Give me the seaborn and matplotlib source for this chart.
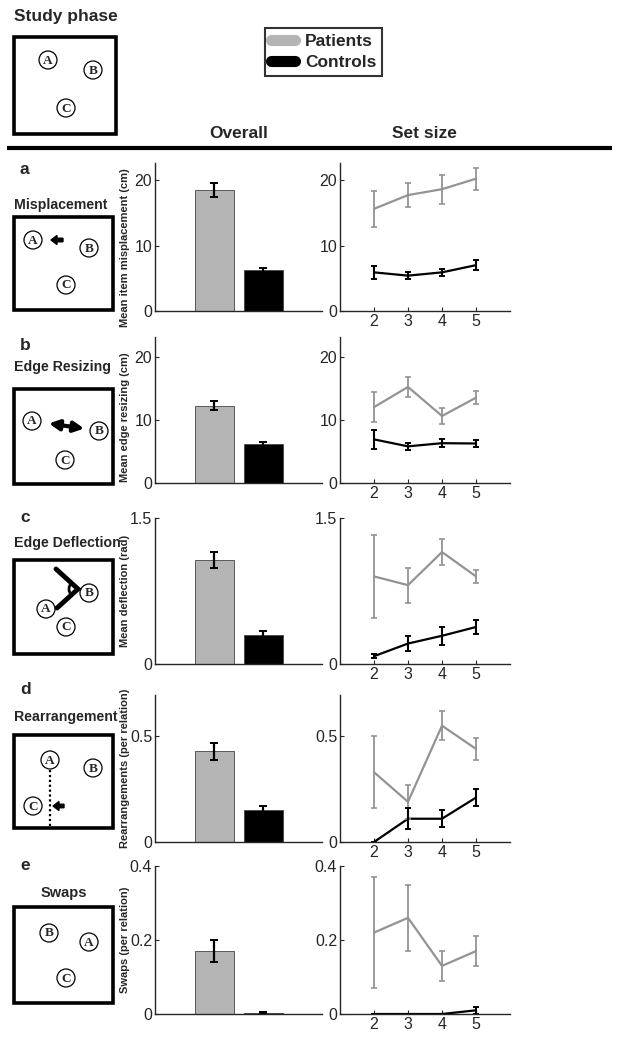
import numpy as np
import pandas as pd
import matplotlib
matplotlib.use("Agg")
import matplotlib.pyplot as plt
from matplotlib import patches
from matplotlib.lines import Line2D
import seaborn as sns

# ---- data ----
groups = ["Patients", "Controls"]
set_sizes = [2, 3, 4, 5]

# misplacement (cm)
mis_bar = [18.5, 6.2]
mis_bar_err = [1.1, 0.35]
mis_pat = [15.6, 17.7, 18.6, 20.2]
mis_pat_err = [2.8, 1.8, 2.2, 1.7]
mis_con = [5.9, 5.4, 5.9, 7.0]
mis_con_err = [1.0, 0.5, 0.5, 0.8]

# edge resizing (cm)
res_bar = [12.2, 6.2]
res_bar_err = [0.7, 0.3]
res_pat = [12.0, 15.2, 10.6, 13.5]
res_pat_err = [2.4, 1.6, 1.2, 1.0]
res_con = [6.9, 5.8, 6.3, 6.25]
res_con_err = [1.5, 0.6, 0.6, 0.5]

# edge deflection (rad)
def_bar = [1.07, 0.30]
def_bar_err = [0.08, 0.04]
def_pat = [0.90, 0.81, 1.15, 0.90]
def_pat_err = [0.43, 0.18, 0.13, 0.07]
def_con = [0.08, 0.21, 0.29, 0.38]
def_con_err = [0.02, 0.08, 0.09, 0.07]

# rearrangements (per relation)
rea_bar = [0.43, 0.15]
rea_bar_err = [0.04, 0.02]
rea_pat = [0.33, 0.19, 0.55, 0.44]
rea_pat_err = [0.17, 0.08, 0.07, 0.05]
rea_con = [0.0, 0.11, 0.11, 0.21]
rea_con_err = [0.0, 0.05, 0.04, 0.04]

# swaps (per relation)
swp_bar = [0.17, 0.003]
swp_bar_err = [0.03, 0.003]
swp_pat = [0.22, 0.26, 0.13, 0.17]
swp_pat_err = [0.15, 0.09, 0.04, 0.04]
swp_con = [0.0, 0.0, 0.0, 0.01]
swp_con_err = [0.0, 0.0, 0.0, 0.01]

letters = ["a", "b", "c", "d", "e"]
titles = ["Misplacement", "Edge Resizing", "Edge Deflection", "Rearrangement", "Swaps"]
ylabels = ["Mean item misplacement (cm)", "Mean edge resizing (cm)",
           "Mean deflection (rad)", "Rearrangements (per relation)", "Swaps (per relation)"]
ylims = [22.6, 23.1, 1.5, 0.695, 0.4]
yticks = [[0, 10, 20], [0, 10, 20], [0, 1.5], [0, 0.5], [0, 0.2, 0.4]]
yticklabels = [["0", "10", "20"], ["0", "10", "20"], ["0", "1.5"], ["0", "0.5"], ["0", "0.2", "0.4"]]

bars = [mis_bar, res_bar, def_bar, rea_bar, swp_bar]
bars_err = [mis_bar_err, res_bar_err, def_bar_err, rea_bar_err, swp_bar_err]
pats = [mis_pat, res_pat, def_pat, rea_pat, swp_pat]
pats_err = [mis_pat_err, res_pat_err, def_pat_err, rea_pat_err, swp_pat_err]
cons = [mis_con, res_con, def_con, rea_con, swp_con]
cons_err = [mis_con_err, res_con_err, def_con_err, rea_con_err, swp_con_err]

GRAY_BAR = "#b4b4b4"
GRAY_LINE = "#939393"
BLACK = "#000000"
FAMILY = ["Liberation Sans", "DejaVu Sans"]

sns.set_style("ticks")
plt.rcParams["font.family"] = FAMILY
plt.rcParams["axes.linewidth"] = 1.0

W, H = 628, 1048
fig = plt.figure(figsize=(W / 100, H / 100), dpi=100)

def fx(px):
    return px / W

def fy(py):
    return 1 - py / H

# row extents in pixels (top, bottom)
rows = [(163, 311), (337, 483), (518, 664), (695, 842), (866, 1014)]
label_y = [0.43, 0.45, 0.5, 0.5, 0.5]
bar_x = (155, 322)
line_x = (340, 510)

for i in range(5):
    top, bot = rows[i]
    axb = fig.add_axes([fx(bar_x[0]), fy(bot), fx(bar_x[1] - bar_x[0]), (bot - top) / H])
    axl = fig.add_axes([fx(line_x[0]), fy(bot), fx(line_x[1] - line_x[0]), (bot - top) / H])

    # overall bars
    df = pd.DataFrame({"group": groups, "value": bars[i]})
    sns.barplot(data=df, x="group", y="value", hue="group", palette=[GRAY_BAR, BLACK],
                width=0.8, errorbar=None, legend=False, ax=axb,
                edgecolor="#444444", linewidth=0.6)
    axb.errorbar([0, 1], bars[i], yerr=bars_err[i], fmt="none", ecolor="black",
                 elinewidth=1.6, capsize=3, capthick=1.4)
    axb.set_xlim(-1.214, 2.194)
    axb.set_ylim(0, ylims[i])
    axb.set_xticks([])
    axb.set_xlabel("")
    axb.set_yticks(yticks[i])
    axb.set_yticklabels(yticklabels[i])
    axb.set_ylabel(ylabels[i], fontsize=8, fontweight="bold")
    axb.yaxis.set_label_coords(-0.15, label_y[i])

    # set size lines
    dl = pd.DataFrame({
        "set size": set_sizes * 2,
        "value": pats[i] + cons[i],
        "group": ["Patients"] * 4 + ["Controls"] * 4,
    })
    sns.lineplot(data=dl, x="set size", y="value", hue="group",
                 palette={"Patients": GRAY_LINE, "Controls": BLACK},
                 linewidth=1.6, legend=False, ax=axl)
    axl.errorbar(set_sizes, pats[i], yerr=pats_err[i], fmt="none", ecolor=GRAY_LINE,
                 elinewidth=1.3, capsize=2, capthick=1.2)
    axl.errorbar(set_sizes, cons[i], yerr=cons_err[i], fmt="none", ecolor=BLACK,
                 elinewidth=1.5, capsize=2, capthick=1.4)
    axl.set_xlim(1, 6)
    axl.set_ylim(0, ylims[i])
    axl.set_xticks(set_sizes)
    axl.set_yticks(yticks[i])
    axl.set_yticklabels(yticklabels[i])
    axl.set_xlabel("")
    axl.set_ylabel("")

    for ax in (axb, axl):
        sns.despine(ax=ax)
        ax.tick_params(direction="in", length=3, width=0.8, labelsize=11.5, pad=2)
        ax.set_facecolor("none")

# ---- overlay for headers, schematics and rule ----
ov = fig.add_axes([0, 0, 1, 1], zorder=-1)
ov.set_xlim(0, W)
ov.set_ylim(H, 0)
ov.axis("off")

bold = dict(fontweight="bold")
ov.text(14, 17, "Study phase", fontsize=12.5, ha="left", va="center", **bold)
ov.text(239, 133, "Overall", fontsize=12.5, ha="center", va="center", **bold)
ov.text(424, 133, "Set size", fontsize=12.5, ha="center", va="center", **bold)
ov.plot([7, 612], [148, 148], color="black", lw=3, solid_capstyle="butt")

letter_y = [170, 345, 517, 690, 866]
title_y = [205, 367, 543, 717, 893]
for i in range(5):
    ov.text(20, letter_y[i], letters[i], fontsize=12.5, ha="left", va="center", **bold)
    if titles[i] == "Swaps":
        ov.text(64, title_y[i], titles[i], fontsize=10.5, ha="center", va="center", **bold)
    else:
        ov.text(14, title_y[i], titles[i], fontsize=10.2, ha="left", va="center", **bold)

boxes = [(14, 37, 116, 134), (14, 217, 113, 310), (14, 389, 113, 484),
         (14, 560, 113, 654), (14, 735, 113, 828), (14, 907, 113, 1003)]
for (x0, y0, x1, y1) in boxes:
    ov.add_patch(patches.Rectangle((x0, y0), x1 - x0, y1 - y0, fill=False, lw=2.6, ec="black"))

circles = [
    [("A", 48, 60), ("B", 93, 70), ("C", 66, 108)],
    [("A", 33, 240), ("B", 89, 248), ("C", 66, 285)],
    [("A", 32, 421), ("B", 99, 431), ("C", 65, 460)],
    [("A", 46, 609), ("B", 89, 593), ("C", 66, 627)],
    [("A", 50, 760), ("B", 93, 768), ("C", 33, 806)],
    [("B", 49, 933), ("A", 89, 942), ("C", 66, 978)],
]
for group in circles:
    for lab, cx, cy in group:
        ov.add_patch(patches.Circle((cx, cy), 9, fill=True, fc="white", ec="black", lw=0.9))
        ov.text(cx, cy + 0.5, lab, fontsize=9.5, fontweight="bold", ha="center", va="center",
                family=["Liberation Serif", "DejaVu Serif"])

# arrows inside schematics
ov.add_patch(patches.FancyArrow(63, 240, -12, 0, width=3.5, head_width=9, head_length=6,
                                length_includes_head=True, color="black"))
ov.add_patch(patches.FancyArrowPatch((46, 423), (87, 429), arrowstyle="<|-|>",
                                     mutation_scale=15, lw=3, color="black"))
ov.plot([56, 78, 57], [569, 589, 608], color="black", lw=3.5, solid_joinstyle="miter")
ov.add_patch(patches.Arc((78, 589), 18, 18, angle=0, theta1=135, theta2=225, lw=2, color="black"))
ov.plot([50, 50], [770, 828], color="black", lw=1.6, ls=(0, (1, 1.2)))
ov.add_patch(patches.FancyArrow(64, 806, -11, 0, width=3.5, head_width=9, head_length=6,
                                length_includes_head=True, color="black"))

# legend
handles = [Line2D([], [], color=GRAY_BAR, lw=8, solid_capstyle="round"),
           Line2D([], [], color=BLACK, lw=8, solid_capstyle="round")]
leg = fig.legend(handles, groups, loc="upper left", bbox_to_anchor=(fx(265), fy(28)),
                 frameon=True, fancybox=False, handlelength=1.4, handletextpad=0.55,
                 borderpad=0.35, labelspacing=0.3, borderaxespad=0,
                 prop={"weight": "bold", "size": 12.5})
leg.get_frame().set_edgecolor("black")
leg.get_frame().set_linewidth(1.5)

fig.savefig("out.png", dpi=100)
